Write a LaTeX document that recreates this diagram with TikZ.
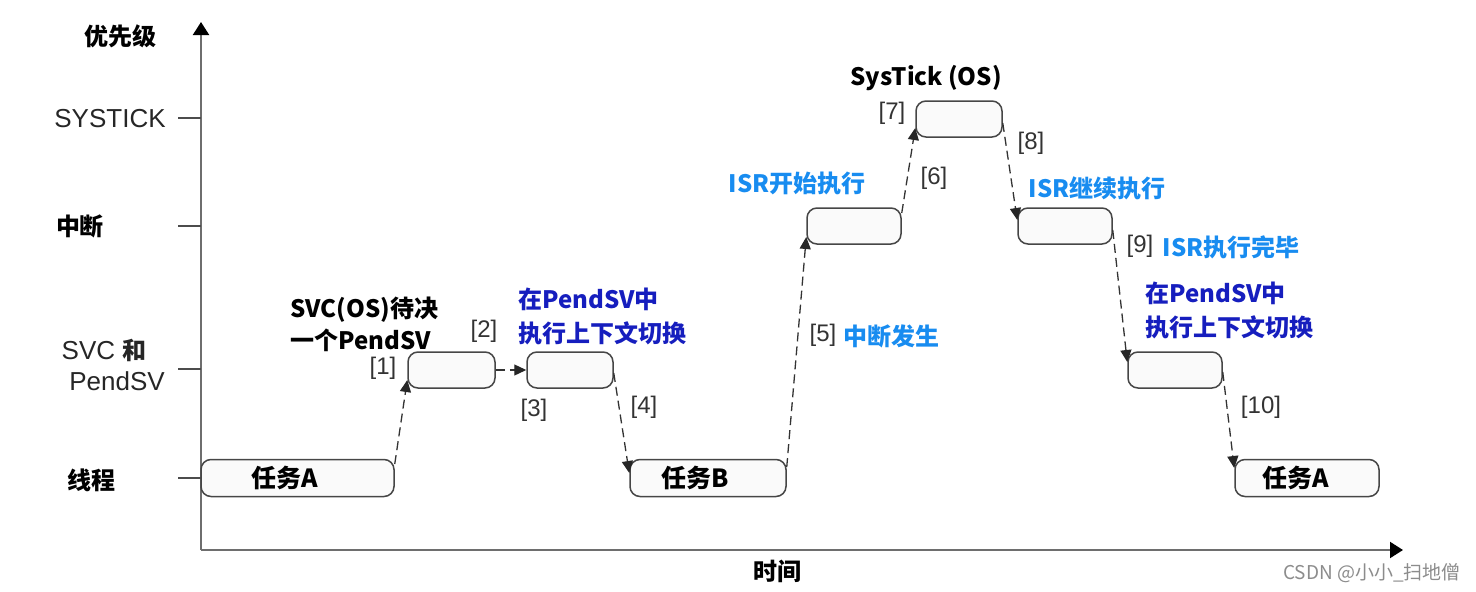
\documentclass[tikz,border=0pt]{standalone}
\usepackage{fontspec}
\setmainfont{Liberation Sans}
\newfontfamily\cjk{Noto Sans CJK SC}
\usetikzlibrary{arrows.meta}
\definecolor{darkblue}{RGB}{22,30,190}
\definecolor{lightblue}{RGB}{24,140,240}
\definecolor{boxline}{RGB}{70,70,70}
\definecolor{axisgray}{RGB}{110,110,110}
\tikzset{
  box/.style={rectangle, rounded corners=10pt, draw=boxline, line width=1.5pt, fill=black!2, inner sep=0pt},
  boxtext/.style={font=\cjk\bfseries\fontsize{25}{28}\selectfont, text=black},
  conn/.style={draw=black!80, line width=1.3pt, dash pattern=on 9pt off 5pt, -{Triangle[length=12pt,width=11pt,color=black!85]}},
  num/.style={font=\fontsize{24}{28}\selectfont, text=black!80, inner sep=0pt},
  axlab/.style={font=\fontsize{26}{30}\selectfont, text=black!85, inner sep=0pt},
  cjklab/.style={font=\cjk\bfseries\fontsize{24}{28}\selectfont, text=black, inner sep=0pt},
  bluelab/.style={font=\cjk\bfseries\fontsize{24}{28}\selectfont, text=lightblue, inner sep=0pt},
  dbluelab/.style={font=\cjk\bfseries\fontsize{24}{34}\selectfont, text=darkblue, inner sep=0pt, align=left, anchor=west},
  blacklab/.style={font=\cjk\bfseries\fontsize{24}{32}\selectfont, text=black, inner sep=0pt, align=left, anchor=west},
  axis/.style={draw=axisgray, line width=2pt, -{Triangle[length=13pt,width=16pt,color=black]}},
  tick/.style={draw=black!70, line width=1.5pt}
}
\begin{document}
\begin{tikzpicture}[x=1pt,y=-1pt]
\useasboundingbox (0,0) rectangle (1476,592);
% axes
\coordinate (o) at (201,550);
\coordinate (ytop) at (201,22);
\coordinate (xend) at (1403,550);
\draw[axis] (o) -- (ytop);
\draw[axis] (o) -- (xend);
% ticks
\foreach \n/\yy in {t1/118, t2/226, t3/369, t4/478}{
  \coordinate (\n a) at (178,\yy);
  \coordinate (\n b) at (201,\yy);
  \draw[tick] (\n a) -- (\n b);
}
% axis labels
\node[cjklab] (lprio) at (120,36) {优先级};
\node[axlab] (lsys) at (110,119) {SYSTICK};
\node[cjklab] (lint) at (80,226) {中断};
\node[axlab] (lsvc) at (104,350) {SVC {\cjk\bfseries\fontsize{24}{28}\selectfont 和}};
\node[axlab] (lpsv) at (117,381) {PendSV};
\node[cjklab] (lthr) at (91,480) {线程};
\node[cjklab] (ltime) at (777,571) {时间};
% boxes
\node[box, minimum width=193pt, minimum height=37pt] (ta) at (297.5,478) {};
\node[box, minimum width=87pt, minimum height=36pt] (s1) at (451.5,370) {};
\node[box, minimum width=86pt, minimum height=36pt] (s2) at (570,370) {};
\node[box, minimum width=156pt, minimum height=37pt] (tb) at (708,478) {};
\node[box, minimum width=94pt, minimum height=36pt] (isr) at (854,226) {};
\node[box, minimum width=86pt, minimum height=36pt] (st) at (959,119) {};
\node[box, minimum width=94pt, minimum height=36pt] (isr2) at (1065,226) {};
\node[box, minimum width=94pt, minimum height=36pt] (p2) at (1175,370) {};
\node[box, minimum width=144pt, minimum height=37pt] (ta2) at (1307,478) {};
% box texts (set left of centre, as in the reference)
\node[boxtext, inner sep=0pt] (tat) at ([xshift=-13pt]ta.center) {任务A};
\node[boxtext, inner sep=0pt] (tbt) at ([xshift=-13pt]tb.center) {任务B};
\node[boxtext, inner sep=0pt] (ta2t) at ([xshift=-11pt]ta2.center) {任务A};
% connectors
\draw[conn] ([yshift=14pt]ta.east) -- ([yshift=-10pt]s1.west);
\draw[conn] (s1.east) -- (s2.west);
\draw[conn] ([yshift=-3pt]s2.east) -- ([yshift=5pt]tb.west);
\draw[conn] ([yshift=11pt]tb.east) -- ([yshift=-11pt]isr.west);
\draw[conn] ([yshift=13pt]isr.east) -- ([yshift=-9pt]st.west);
\draw[conn] ([yshift=-4pt]st.east) -- ([yshift=6pt]isr2.west);
\draw[conn] ([yshift=-4pt]isr2.east) -- ([yshift=8pt]p2.west);
\draw[conn] ([yshift=-2pt]p2.east) -- ([yshift=10pt]ta2.west);
% step numbers
\node[num] (n1) at (383,368) {[1]};
\node[num] (n2) at (484,331) {[2]};
\node[num] (n3) at (534,410) {[3]};
\node[num] (n4) at (644,407) {[4]};
\node[num] (n5) at (823,335) {[5]};
\node[num] (n6) at (934,178) {[6]};
\node[num] (n7) at (892,113) {[7]};
\node[num] (n8) at (1031,143) {[8]};
\node[num] (n9) at (1140,246) {[9]};
\node[num] (n10) at (1261,407) {[10]};
% annotations
\node[blacklab] (svcos) at (290,324) {SVC(OS)待决\\一个PendSV};
\node[dbluelab] (ctx1) at (518,316) {在PendSV中\\执行上下文切换};
\node[dbluelab] (ctx2) at (1145,310) {在PendSV中\\执行上下文切换};
\node[bluelab] (irq) at (891,336) {中断发生};
\node[bluelab] (isrs) at (797,183) {ISR开始执行};
\node[cjklab] (systk) at (926,78) {SysTick (OS)};
\node[bluelab] (isrc) at (1097,188) {ISR继续执行};
\node[bluelab] (isrd) at (1231,247) {ISR执行完毕};
\node[font=\cjk\fontsize{19}{22}\selectfont, text=black!45, inner sep=0pt] (wm) at (1372,573) {CSDN @小小\_扫地僧};
\end{tikzpicture}
\end{document}
